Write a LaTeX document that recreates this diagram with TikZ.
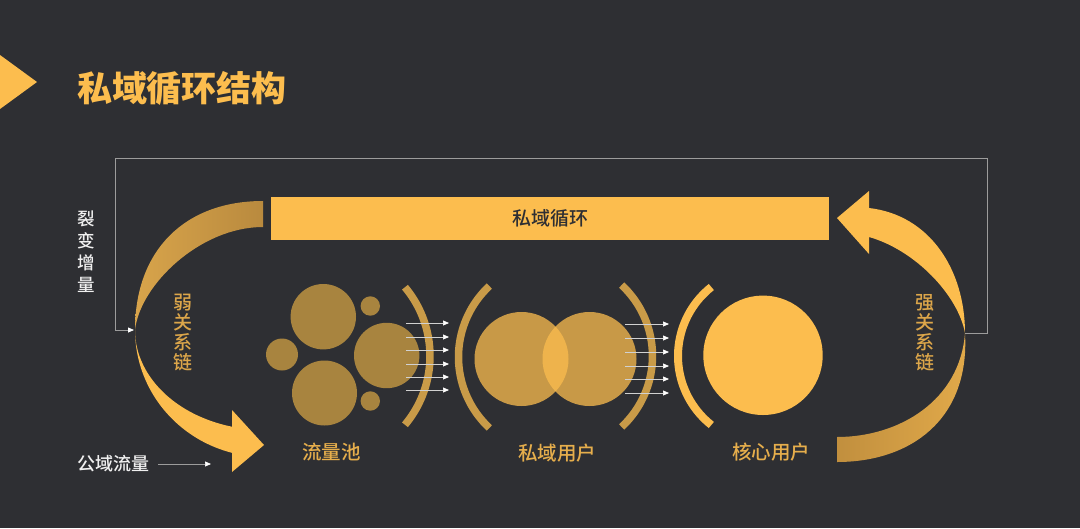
\documentclass[tikz,border=0pt]{standalone}
\usepackage{fontspec}
\setmainfont{Noto Sans CJK SC}
\newfontfamily\cjkmed{Noto Sans CJK SC Medium}
\newfontfamily\cjkblack{Noto Sans CJK SC Black}
\usetikzlibrary{arrows.meta}
\definecolor{bg}{HTML}{2E2F33}
\definecolor{gold}{HTML}{FCBD4E}
\definecolor{goldlabel}{HTML}{E6AE4C}
\definecolor{goldvert}{HTML}{DCA64A}
\definecolor{goldarc}{HTML}{C99B48}
\definecolor{goldpool}{HTML}{A8843F}
\definecolor{goldD}{HTML}{B98A3E}
\definecolor{goldM}{HTML}{D8A44B}
\definecolor{goldRD}{HTML}{C18F3E}
\definecolor{goldRM}{HTML}{E2AA4A}
\definecolor{framegray}{HTML}{9C9C9C}
\definecolor{whitetext}{HTML}{F0F0F0}
\begin{document}
\begin{tikzpicture}[x=1pt,y=-1pt,
  lbltext/.style={text=goldlabel, font=\cjkmed\fontsize{19.5}{20}\selectfont, inner sep=0pt},
  verttext/.style={text=goldvert, font=\cjkmed\fontsize{19}{20}\selectfont, align=center, inner sep=0pt},
  whitevert/.style={text=whitetext, font=\cjkmed\fontsize{17.5}{22}\selectfont, align=center, inner sep=0pt},
  poolcircle/.style={circle, fill=goldpool, inner sep=0pt, minimum size=#1},
  usercircle/.style={circle, fill=gold, fill opacity=0.75, inner sep=0pt, minimum size=#1},
  corecircle/.style={circle, fill=gold, inner sep=0pt, minimum size=#1},
  bracketarc/.style={draw=goldarc, line width=7.5pt},
  corearc/.style={draw=gold, line width=8pt},
  flowarrow/.style={draw=white!82!black, line width=0.7pt, -{Triangle[length=6pt,width=5pt,color=white]}},
  frameline/.style={draw=framegray, line width=0.8pt},
]
% background / bounding box
\fill[bg] (0,0) rectangle (1080,528);
\useasboundingbox (0,0) rectangle (1080,528);

% title
\fill[gold] (0,55) -- (37,82) -- (0,109) -- cycle;
\node[text=gold, font=\cjkblack\fontsize{35}{36}\selectfont, inner sep=0pt] (title) at (182,88) {私域循环结构};

% frame line (裂变增量 loop)
\coordinate (f1) at (965,333);
\coordinate (f2) at (987,333);
\coordinate (f3) at (987,158);
\coordinate (f4) at (115,158);
\coordinate (f5) at (115,330);
\coordinate (f6) at (134,330);
\draw[frameline] (f1) -- (f2) -- (f3) -- (f4) -- (f5);
\draw[frameline, -{Triangle[length=6pt,width=5pt,color=white]}] (f5) -- (f6);
\node[whitevert] (fission) at (86,252) {裂\\变\\增\\量};

% top bar
\node[fill=gold, minimum width=558pt, minimum height=43pt, inner sep=0pt,
      text=bg, font=\cjkmed\fontsize{19}{20}\selectfont] (bar) at (550,218.5) {私域循环};

% left arc: upper crescent
\shade[left color=goldM, right color=goldD]
  (263,201) .. controls (185,201) and (135,250) .. (135,330)
  .. controls (140,285) and (200,227) .. (263,227) -- cycle;
% left arc: lower part with arrowhead
\fill[gold]
  plot[domain=180:104.7, samples=40, variable=\t] ({265+130*cos(\t)},{330+127*sin(\t)})
  -- (232,472) -- (264,445) -- (232,410)
  -- plot[domain=104.7:180, samples=40, variable=\t] ({265+130*cos(\t)},{330+100*sin(\t)})
  -- cycle;
\node[verttext] (weak) at (182.5,333) {弱\\关\\系\\链};

% right arc: upper part with arrowhead
\fill[gold]
  (965,333) .. controls (965,270) and (930,215) .. (869,208)
  -- (869,191) -- (837,218) -- (869,254) -- (869,237)
  .. controls (915,250) and (958,295) .. (965,333) -- cycle;
% right arc: lower crescent
\shade[left color=goldRD, right color=goldRM]
  (965,333) .. controls (970,420) and (910,462) .. (837,462)
  -- (837,437) .. controls (900,437) and (960,400) .. (965,333) -- cycle;
\node[verttext] (strong) at (925,333) {强\\关\\系\\链};

% traffic pool
\node[poolcircle=65.4pt] (p1) at (323.3,316.7) {};
\node[poolcircle=65pt]   (p2) at (324.5,393) {};
\node[poolcircle=32pt]   (p3) at (282,354.5) {};
\node[poolcircle=65.4pt] (p4) at (386.7,355.5) {};
\node[poolcircle=19.4pt] (p5) at (370.3,306) {};
\node[poolcircle=19.4pt] (p6) at (370.3,401) {};
\draw[bracketarc] plot[domain=-40:40, samples=40, variable=\t] ({323+107*cos(\t)},{356+107*sin(\t)});
\node[lbltext] (poollabel) at (331.7,452.5) {流量池};

% private users
\node[usercircle=94pt] (u1) at (521.5,359) {};
\node[usercircle=94pt] (u2) at (589.5,359) {};
\draw[bracketarc] plot[domain=133:227, samples=40, variable=\t] ({555.5+97*cos(\t)},{357+97*sin(\t)});
\draw[bracketarc] plot[domain=-47:47, samples=40, variable=\t] ({555.5+97*cos(\t)},{356+97*sin(\t)});
\node[lbltext] (userlabel) at (557,453) {私域用户};

% core users
\node[corecircle=119.4pt] (core) at (763,355.3) {};
\draw[corearc] plot[domain=128.4:231.6, samples=40, variable=\t] ({766+88*cos(\t)},{356+88*sin(\t)});
\node[lbltext] (corelabel) at (771,452) {核心用户};

% flow arrows
\foreach \i/\y in {1/323,2/337,3/350,4/364,5/377,6/390}{
  \coordinate (as\i) at (406,\y);
  \coordinate (ae\i) at (449,\y);
  \draw[flowarrow] (as\i) -- (ae\i);
}
\foreach \i/\y in {1/324,2/338,3/352,4/366,5/379,6/393}{
  \coordinate (bs\i) at (625,\y);
  \coordinate (be\i) at (669,\y);
  \draw[flowarrow] (bs\i) -- (be\i);
}

% public traffic
\node[text=whitetext, font=\cjkmed\fontsize{18}{20}\selectfont, inner sep=0pt] (public) at (113,463.5) {公域流量};
\coordinate (pa) at (158,464);
\coordinate (pb) at (211,464);
\draw[flowarrow, draw=framegray] (pa) -- (pb);
\end{tikzpicture}
\end{document}
